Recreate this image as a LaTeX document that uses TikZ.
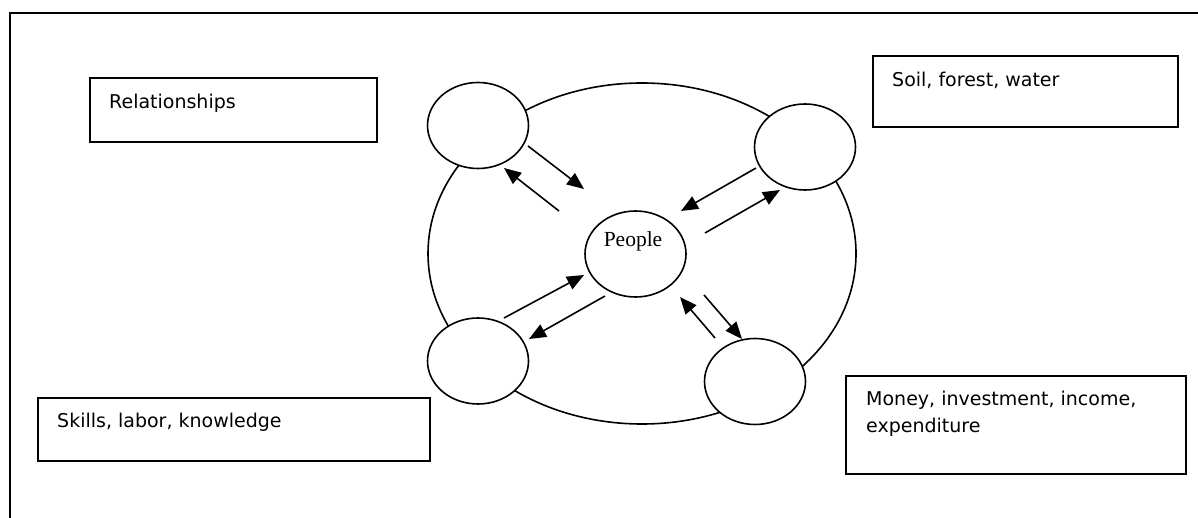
\documentclass[tikz,border=0pt]{standalone}
\usepackage{fontspec}
\setmainfont{DejaVu Sans}
\newfontfamily\peoplefont{Liberation Serif}
\usetikzlibrary{arrows.meta,shapes.geometric}
\begin{document}
\begin{tikzpicture}[x=1pt,y=-1pt,
  framestyle/.style={line width=2.2pt},
  boxstyle/.style={draw, line width=1.8pt, rectangle, anchor=north west, inner sep=0pt},
  labelstyle/.style={anchor=base west, inner sep=0pt, font=\fontsize{19}{26.7}\selectfont},
  bigoval/.style={draw, ellipse, line width=1.6pt, inner sep=0pt},
  smalloval/.style={draw, ellipse, fill=white, line width=1.6pt, inner sep=0pt, minimum width=101pt, minimum height=86pt},
  flow/.style={line width=1.6pt, -{Triangle[length=17pt,width=14pt]}}]
\useasboundingbox (0,0) rectangle (1198,518);
% frame
\coordinate (fb) at (10,518);
\coordinate (fc) at (10,13);
\coordinate (fr) at (1198,13);
\draw[framestyle] (fb) -- (fc) -- (fr);
% text boxes
\node[boxstyle, minimum width=287pt, minimum height=64pt] (relbox) at (89,77) {};
\node[labelstyle] (reltext) at (109,109) {Relationships};
\node[boxstyle, minimum width=305pt, minimum height=71pt] (soilbox) at (872,55) {};
\node[labelstyle] (soiltext) at (892,87) {Soil, forest, water};
\node[boxstyle, minimum width=392pt, minimum height=63pt] (skillbox) at (37,397) {};
\node[labelstyle] (skilltext) at (57,427) {Skills, labor, knowledge};
\node[boxstyle, minimum width=340pt, minimum height=98pt] (moneybox) at (845,375) {};
\node[labelstyle, align=left, anchor=north west] (moneytext) at (866,391) {Money, investment, income,\\expenditure};
% ovals
\node[bigoval, minimum width=428pt, minimum height=341pt] (big) at (642,253.5) {};
\node[smalloval] (tl) at (478,125.5) {};
\node[smalloval] (tr) at (805,147) {};
\node[smalloval] (bl) at (478,361) {};
\node[smalloval] (br) at (755,381.5) {};
\node[smalloval] (people) at (635.5,254) {};
\node[inner sep=0pt, anchor=base] (peopletext) at (633,247) {\peoplefont\fontsize{21.5}{24}\selectfont People};
% arrow end points
\coordinate (tlA1) at (528,146);  \coordinate (tlA2) at (584,189);
\coordinate (tlB1) at (559,211);  \coordinate (tlB2) at (504,168);
\coordinate (trA1) at (756,168);  \coordinate (trA2) at (681,211);
\coordinate (trB1) at (705,233);  \coordinate (trB2) at (780,190);
\coordinate (blA1) at (504,318);  \coordinate (blA2) at (584,275);
\coordinate (blB1) at (605,296);  \coordinate (blB2) at (529,339);
\coordinate (brA1) at (715,338);  \coordinate (brA2) at (680,297);
\coordinate (brB1) at (704,295);  \coordinate (brB2) at (742,339);
\draw[flow] (tlA1) -- (tlA2);
\draw[flow] (tlB1) -- (tlB2);
\draw[flow] (trA1) -- (trA2);
\draw[flow] (trB1) -- (trB2);
\draw[flow] (blA1) -- (blA2);
\draw[flow] (blB1) -- (blB2);
\draw[flow] (brA1) -- (brA2);
\draw[flow] (brB1) -- (brB2);
\end{tikzpicture}
\end{document}
